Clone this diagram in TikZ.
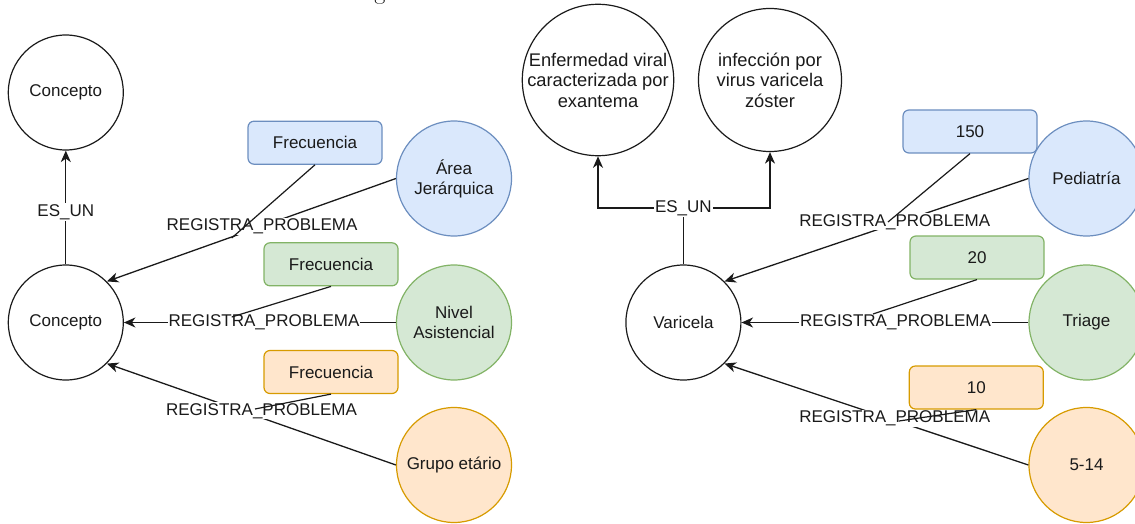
\documentclass[tikz,border=0pt]{standalone}
\usepackage{fontspec}
\newfontfamily\diafont{Liberation Sans}
\usetikzlibrary{arrows.meta}

\definecolor{bluefill}{HTML}{DAE8FC}
\definecolor{bluedraw}{HTML}{6C8EBF}
\definecolor{greenfill}{HTML}{D5E8D4}
\definecolor{greendraw}{HTML}{82B366}
\definecolor{orangefill}{HTML}{FFE6CC}
\definecolor{orangedraw}{HTML}{D79B00}
\definecolor{ink}{HTML}{1A1A1A}

\begin{document}
\begin{tikzpicture}[x=1pt,y=-1pt,
  font=\diafont\fontsize{17}{20}\selectfont,
  concept/.style={circle, draw=ink, line width=1.2pt, minimum size=115pt,
    inner sep=0pt, align=center, text=ink},
  bigconcept/.style={concept, minimum size=143pt,
    font=\diafont\fontsize{18.3}{20.5}\selectfont},
  attr/.style={concept, fill=#1fill, draw=#1draw},
  valbox/.style={rectangle, rounded corners=6pt, draw=#1draw, fill=#1fill,
    line width=1.2pt, minimum width=134pt, minimum height=43pt,
    inner sep=0pt, text=ink},
  rel/.style={draw=ink, line width=1.3pt,
    -{Stealth[length=11.5pt,width=10pt,inset=3.5pt]}},
  link/.style={draw=ink, line width=1.2pt},
  lbl/.style={fill=white, inner sep=1pt, text=ink}]

\useasboundingbox (0,0) rectangle (1135,524);
\clip (0,0) rectangle (1135,524);

% caption fragment at the top edge
\node[anchor=base, inner sep=0pt, font=\rmfamily\fontsize{24}{24}\selectfont]
  (capg) at (380,-0.5) {g};

% ---------- left graph: generic schema ----------
\node[valbox=blue]   (fb1) at (315,142.7) {Frecuencia};
\node[valbox=green]  (fb2) at (331,264.3) {Frecuencia};
\node[valbox=orange] (fb3) at (331,372)   {Frecuencia};

\node[concept] (ct) at (65.8,92.5)  {Concepto};
\node[concept] (cb) at (65.8,322.5) {Concepto};
\node[attr=blue]   (area)  at (454,178.5) {Área\\Jerárquica};
\node[attr=green]  (nivel) at (454,322.5) {Nivel\\Asistencial};
\node[attr=orange] (grupo) at (454,465)   {Grupo etário};

\draw[rel] (cb.north) -- node[lbl, pos=0.46] (esl) {ES\_UN} (ct.south);
\draw[rel] (area.west) -- node[lbl, pos=0.463] (r1) {REGISTRA\_PROBLEMA} (cb.45);
\draw[rel] (nivel.west) -- node[lbl, pos=0.485] (r2) {REGISTRA\_PROBLEMA} (cb.east);
\draw[rel] (grupo.west) -- node[lbl, pos=0.465, yshift=7pt] (r3) {REGISTRA\_PROBLEMA} (cb.-45);

\coordinate (j1) at (231.7,238);
\coordinate (j2) at (231.7,317);
\coordinate (j3) at (255,409);
\draw[link] (fb1.south) -- (j1);
\draw[link] (fb2.south) -- (j2);
\draw[link] (fb3.south) -- (j3);

% ---------- right graph: Varicela ----------
\node[valbox=blue]   (b150) at (970,131.5)   {150};
\node[valbox=green]  (b20)  at (977,257.5)   {20};
\node[valbox=orange] (b10)  at (976.3,387.5) {10};

\node[bigconcept] (enf) at (598,80) {Enfermedad viral\\caracterizada por\\exantema};
\node[bigconcept] (inf) at (770,80) {infección por\\virus varicela\\zóster};
\node[concept] (var) at (683.4,322.5) {Varicela};
\node[attr=blue]   (ped)  at (1086.5,178.5) {Pediatría};
\node[attr=green]  (tri)  at (1086.5,322.5) {Triage};
\node[attr=orange] (c514) at (1086.5,465)   {5-14};

\coordinate (esj) at (var.north |- 0,208);
\draw[rel] (var.north) -- (esj) -| (enf.south);
\draw[rel] (esj) -| (inf.south);
\node[lbl] (esr) at (esj) {ES\_UN};

\draw[rel] (ped.west) -- node[lbl, pos=0.44, yshift=2pt] (r4) {REGISTRA\_PROBLEMA} (var.45);
\draw[rel] (tri.west) -- node[lbl, pos=0.463] (r5) {REGISTRA\_PROBLEMA} (var.east);
\draw[rel] (c514.west) -- node[lbl, pos=0.44, yshift=2pt] (r6) {REGISTRA\_PROBLEMA} (var.-45);

\coordinate (j4) at (888,222);
\coordinate (j5) at (873,314);
\coordinate (j6) at (899,421);
\draw[link] (b150.south) -- (j4);
\draw[link] (b20.south) -- (j5);
\draw[link] (b10.south) -- (j6);
\end{tikzpicture}
\end{document}
